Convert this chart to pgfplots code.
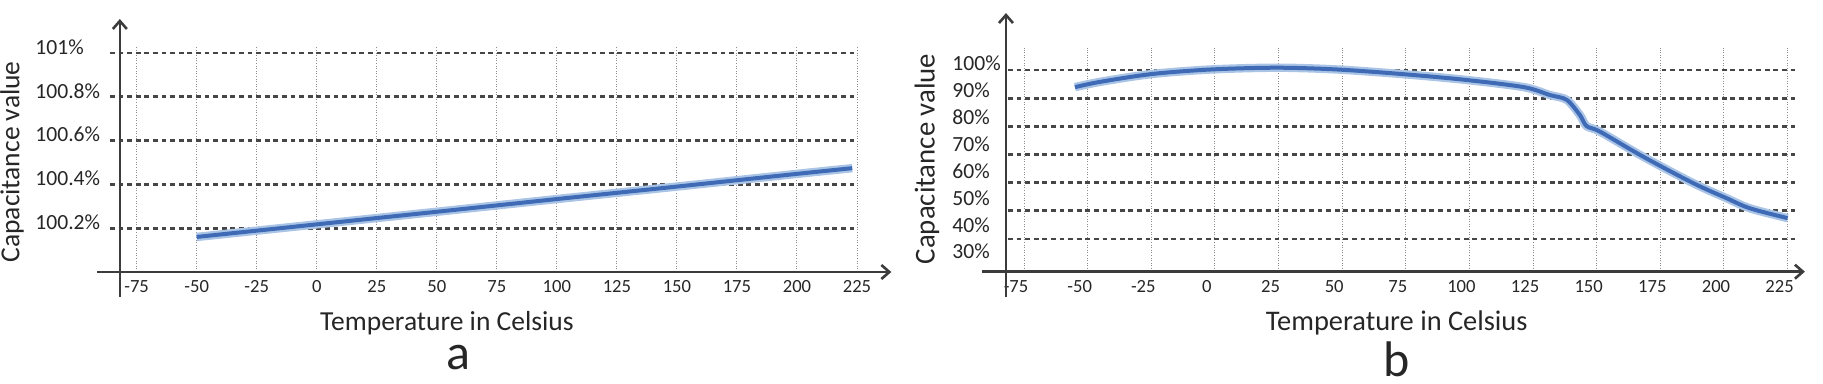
\documentclass[border=0pt]{standalone}
\usepackage{pgfplots}
\pgfplotsset{compat=1.18}
\usepackage{pgfplotstable}
\usepackage{fontspec}
\setmainfont{Carlito}
\usetikzlibrary{arrows.meta}
\definecolor{linecore}{RGB}{62,106,182}
\definecolor{lineglow}{RGB}{170,196,230}
\definecolor{txt}{RGB}{38,38,38}
\definecolor{gridh}{RGB}{70,70,70}
\definecolor{gridv}{RGB}{140,140,140}
\definecolor{axcol}{RGB}{60,60,60}

\pgfplotstableread{
t c
-50 100.160
0 100.2175
50 100.275
100 100.333
150 100.390
200 100.448
223 100.474
}\dataA

\pgfplotstableread{
t c
-55 93.9
-45 95.8
-24.4 98.6
-1 100.2
24.3 100.8
47.4 100.2
72.8 98.6
98.3 96.5
121.4 93.9
131.6 91.1
138.2 89.4
143.4 84.0
146 80.1
151.3 78.1
168.3 69.2
188 59.8
201 54.5
210.2 50.9
225 47.4
}\dataB

\pgfplotsset{
  common/.style={
    scale only axis, clip=false,
    axis x line*=bottom, axis y line*=left,
    axis line style={draw=none},
    major tick length=0pt,
    xmajorgrids,
    x grid style={gridv, line width=0.5pt, dash pattern=on 0.5pt off 0.8pt},
    y grid style={gridh, line width=1.4pt, dash pattern=on 2.4pt off 1.9pt},
    tick label style={text=txt},
    label style={text=txt},
    /pgf/number format/assume math mode=true,
    xtick={-75,-50,...,225},
    xticklabels={-75,-50,-25,0,25,50,75,100,125,150,175,200,225},
  },
  glow/.style={lineglow, line width=4.2pt, smooth, no markers},
  core/.style={linecore, line width=2pt, smooth, no markers},
}

\begin{document}
\begin{tikzpicture}
\useasboundingbox (0,0) rectangle (911.5pt,192pt);

% ---------------- panel a ----------------
\begin{axis}[common,
  at={(55pt,56pt)}, anchor=south west,
  width=373.5pt, height=112.8pt,
  xmin=-86.1, xmax=225, ymin=100, ymax=101.03,
  ymajorgrids,
  ytick={100.2,100.4,100.6,100.8,101},
  yticklabels={100.2\%,100.4\%,100.6\%,100.8\%,101\%},
  xticklabel style={anchor=base, inner sep=0pt, yshift=-10.4pt, font=\fontsize{9.3}{11}\selectfont},
  yticklabel style={anchor=west, inner sep=0pt, xshift=-37.5pt, yshift=3pt, font=\fontsize{10.8}{12}\selectfont},
  xlabel={Temperature in Celsius},
  xlabel style={at={(axis description cs:0.451,-0.2615)}, anchor=base, inner sep=0pt, font=\fontsize{13.75}{16}\selectfont},
  ylabel={Capacitance value},
  ylabel style={at={(axis description cs:-0.131,0.488)}, anchor=center, font=\fontsize{13.75}{16}\selectfont},
  title={a},
  title style={at={(axis description cs:0.467,-0.434)}, anchor=base, yshift=-6pt, inner sep=0pt, font=\fontsize{25}{30}\selectfont, text=txt},
]
\draw[axcol, line width=1.3pt, -{Straight Barb[length=4pt,width=7pt]}] (axis cs:-91.5,100) -- (axis cs:239.3,100);
\draw[axcol, line width=1.3pt, -{Straight Barb[length=4pt,width=7pt]}] (axis cs:-82,99.886) -- (axis cs:-82,101.155);
\addplot[glow] table[x=t,y=c] {\dataA};
\addplot[core] table[x=t,y=c] {\dataA};
\end{axis}

% ---------------- panel b ----------------
\begin{axis}[common,
  at={(504pt,56.15pt)}, anchor=south west,
  width=395pt, height=111.85pt,
  xmin=-81.3, xmax=229.1, ymin=28.4, ymax=107.8,
  ymajorgrids,
  ytick={40,50,60,70,80,90,100},
  yticklabels={},
  extra y ticks={102.4,92.65,83.2,73.7,63.9,54.45,45.0,35.5},
  extra y tick labels={100\%,90\%,80\%,70\%,60\%,50\%,40\%,30\%},
  extra y tick style={grid=none, yticklabel style={anchor=west, inner sep=0pt, xshift=-28pt, font=\fontsize{10.8}{12}\selectfont}},
  xticklabel style={anchor=base, inner sep=0pt, yshift=-10.5pt, xshift=-4pt, font=\fontsize{9.3}{11}\selectfont},
  xlabel={Temperature in Celsius},
  xlabel style={at={(axis description cs:0.492,-0.265)}, anchor=base, inner sep=0pt, font=\fontsize{14.2}{16}\selectfont},
  ylabel={Capacitance value},
  ylabel style={at={(axis description cs:-0.1025,0.504)}, anchor=center, font=\fontsize{14.4}{16}\selectfont},
  title={b},
  title style={at={(axis description cs:0.492,-0.469)}, anchor=base, yshift=-6pt, inner sep=0pt, font=\fontsize{25}{30}\selectfont, text=txt},
]
\draw[axcol, line width=1.3pt, -{Straight Barb[length=4pt,width=7pt]}] (axis cs:-91.7,28.4) -- (axis cs:231.8,28.4);
\draw[axcol, line width=1.3pt, -{Straight Barb[length=4pt,width=7pt]}] (axis cs:-82.1,19.4) -- (axis cs:-82.1,120.2);
\addplot[glow] table[x=t,y=c] {\dataB};
\addplot[core] table[x=t,y=c] {\dataB};
\end{axis}
\end{tikzpicture}
\end{document}
